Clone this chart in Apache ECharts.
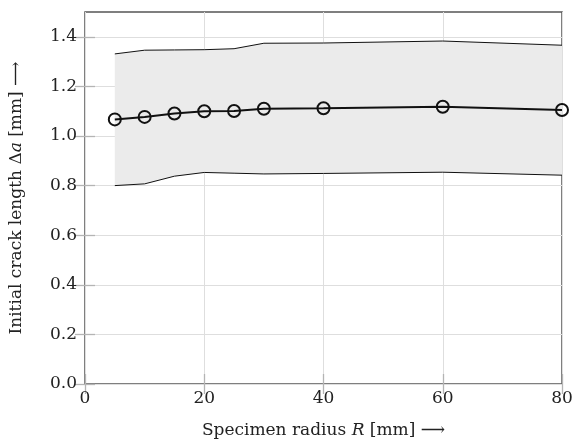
<!DOCTYPE html>
<html>
<head>
<meta charset="utf-8">
<script src="https://cdn.jsdelivr.net/npm/echarts@6/dist/echarts.min.js"></script>
<style>
html,body{margin:0;padding:0;background:#fff;}
#chart{width:583px;height:444px;}
</style>
</head>
<body>
<div id="chart"></div>
<script>
const radii = [5, 10, 15, 20, 25, 30, 40, 60, 80];
const meanLength = [1.067, 1.077, 1.091, 1.100, 1.101, 1.110, 1.112, 1.118, 1.105];
const upperBound = [1.331, 1.346, 1.347, 1.348, 1.352, 1.374, 1.375, 1.383, 1.366];
const lowerBound = [0.800, 0.807, 0.838, 0.853, 0.850, 0.847, 0.849, 0.854, 0.842];
const xTicks = [0, 20, 40, 60, 80];
const yTicks = [0, 0.2, 0.4, 0.6, 0.8, 1.0, 1.2, 1.4];

const FONT = 'DejaVu Serif';
const bandData = radii.map((r, i) => [r, lowerBound[i], upperBound[i]]);
const meanData = radii.map((r, i) => [r, meanLength[i]]);

function renderBand(params, api) {
  if (params.dataIndex !== 0) return null;
  const up = radii.map((r, i) => api.coord([r, upperBound[i]]));
  const lo = radii.map((r, i) => api.coord([r, lowerBound[i]]));
  const poly = up.concat(lo.slice().reverse());
  return {
    type: 'group',
    children: [
      {type: 'polygon', shape: {points: poly}, style: {fill: '#ebebeb', stroke: null}},
      {type: 'polyline', shape: {points: up}, style: {fill: null, stroke: '#111', lineWidth: 1}},
      {type: 'polyline', shape: {points: lo}, style: {fill: null, stroke: '#111', lineWidth: 1}}
    ]
  };
}

const chart = echarts.init(document.getElementById('chart'), null, {renderer: 'canvas'});
const tickX = {show: true, inside: true, length: 10, customValues: xTicks, lineStyle: {color: '#b4b4b4', width: 1.3}};
const tickY = {show: true, inside: true, length: 10, customValues: yTicks, lineStyle: {color: '#b4b4b4', width: 1.3}};
const gridLine = {show: true, lineStyle: {color: '#dedede', width: 1}};
chart.setOption({
  animation: false,
  backgroundColor: '#fff',
  grid: {left: 85, right: 21, top: 12, bottom: 55, show: true, borderColor: '#555', borderWidth: 1.5, backgroundColor: 'transparent'},
  xAxis: [{
    type: 'value', min: 0, max: 80, interval: 20,
    axisLine: {show: false},
    axisTick: tickX,
    splitLine: gridLine,
    axisLabel: {fontFamily: FONT, fontSize: 17, color: '#222', margin: 6, customValues: xTicks,
      formatter: v => String(v)},
    name: '{t|Specimen radius }{i|R}{t| [mm] ⟶}',
    nameLocation: 'middle', nameGap: 38,
    nameTextStyle: {rich: {
      t: {fontFamily: FONT, fontSize: 17, color: '#222'},
      i: {fontFamily: FONT, fontSize: 17, color: '#222', fontStyle: 'italic'}
    }}
  }, {
    type: 'value', min: 0, max: 80, interval: 20, position: 'top',
    axisLine: {show: false}, axisTick: tickX, axisLabel: {show: false}, splitLine: {show: false}
  }],
  yAxis: [{
    type: 'value', min: 0, max: 1.5, interval: 0.1,
    axisLine: {show: false},
    axisTick: tickY,
    splitLine: {show: true, interval: (i, v) => yTicks.some(t => Math.abs(t - v) < 1e-6), lineStyle: {color: '#dedede', width: 1}},
    axisLabel: {fontFamily: FONT, fontSize: 17, color: '#222', margin: 8, customValues: yTicks,
      formatter: v => v.toFixed(1)},
    name: '{t|Initial crack length Δ}{i|a}{t| [mm] ⟶}',
    nameLocation: 'middle', nameGap: 60, nameRotate: 90,
    nameTextStyle: {rich: {
      t: {fontFamily: FONT, fontSize: 17, color: '#222'},
      i: {fontFamily: FONT, fontSize: 17, color: '#222', fontStyle: 'italic'}
    }}
  }, {
    type: 'value', min: 0, max: 1.5, interval: 0.1, position: 'right',
    axisLine: {show: false}, axisTick: tickY, axisLabel: {show: false}, splitLine: {show: false}
  }],
  series: [{
    type: 'custom', name: 'band', data: bandData, renderItem: renderBand,
    encode: {x: 0, y: [1, 2]}, z: 1, silent: true
  }, {
    type: 'line', name: 'mean', data: meanData, symbol: 'circle', symbolSize: 12,
    showAllSymbol: true,
    lineStyle: {color: '#111', width: 2},
    itemStyle: {color: 'transparent', borderColor: '#111', borderWidth: 2}, z: 3
  }]
});
</script>
</body>
</html>
